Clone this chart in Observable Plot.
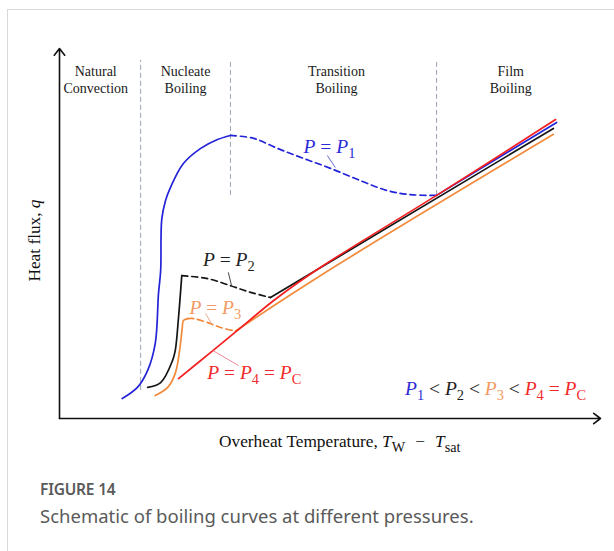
<!DOCTYPE html>
<html>
<head>
<meta charset="utf-8">
<script src="https://cdn.jsdelivr.net/npm/d3@7"></script>
<script src="https://cdn.jsdelivr.net/npm/@observablehq/plot@0.6"></script>
<style>
  html, body { margin: 0; padding: 0; background: #fff; }
  body { width: 614px; height: 551px; position: relative; overflow: hidden; }
  #frame { position: absolute; left: 7px; top: 9px; right: -2px; bottom: -2px;
           border-left: 1px solid #d9d9d9; border-top: 1px solid #d9d9d9; }
  #chart { position: absolute; left: 0; top: 0; }
  .caption { position: absolute; left: 40px; font-family: "Noto Sans", sans-serif; color: #5a5a5a; white-space: nowrap; }
  #fig { top: 478px; font-size: 15.5px; font-weight: 600; letter-spacing: -0.2px; }
  #cap { top: 503px; font-size: 18.5px; }
</style>
</head>
<body>
<div id="frame"></div>
<div id="chart"></div>
<div class="caption" id="fig">FIGURE 14</div>
<div class="caption" id="cap">Schematic of boiling curves at different pressures.</div>
<script>
// Schematic axes (arbitrary units): overheat temperature vs heat flux
const xDomain = [0, 100];
const qDomain = [0, 100];

// Boiling regimes and the boundaries between them
const regimeNames = ["Natural\nConvection", "Nucleate\nBoiling", "Transition\nBoiling", "Film\nBoiling"];
const regimeCenters = [6.7, 23.3, 51.2, 83.4];
const regimeLabelQ = 95.7;
const boundaryX = [15.0, 31.6, 69.7];
const boundaryTop = [96.8, 96.8, 96.8];
const boundaryBottom = [7.6, 60.3, 60.3];

// P = P1 (blue): nucleate rise, transition (dashed), film
const p1RiseX = [11.6, 14.4, 16.3, 17.7, 18.3, 18.7, 18.9, 19.6, 20.5, 22.9, 26.1, 29.2, 31.6];
const p1RiseQ = [5.4, 8.4, 13.0, 20.3, 33.8, 40.0, 53.8, 58.9, 62.4, 68.9, 73.0, 75.4, 76.5];
const p1TransX = [31.6, 35.9, 40.3, 45.1, 50.1, 55.6, 60.6, 64.9, 69.7];
const p1TransQ = [76.5, 75.7, 73.0, 70.3, 67.6, 64.3, 61.6, 60.5, 60.3];
const p1FilmX = [69.7, 91.9];
const p1FilmQ = [60.3, 80.0];

// P = P2 (black)
const p2RiseX = [16.3, 18.7, 20.9, 21.4, 22.0, 22.6];
const p2RiseQ = [8.4, 9.7, 15.7, 18.4, 27.3, 38.6];
const p2TransX = [22.6, 27.4, 31.6, 35.3, 39.0];
const p2TransQ = [38.6, 37.8, 35.9, 34.1, 32.7];
const p2FilmX = [39.0, 91.3];
const p2FilmQ = [32.7, 78.4];

// P = P3 (orange)
const p3RiseX = [17.7, 20.0, 21.4, 22.2, 22.7, 22.9, 23.7];
const p3RiseQ = [6.2, 8.4, 12.2, 18.4, 24.6, 26.5, 27.0];
const p3TransX = [23.7, 24.8, 27.4, 29.8, 32.5];
const p3TransQ = [27.0, 27.0, 25.9, 24.6, 23.6];
const p3FilmX = [32.5, 48.2, 91.3];
const p3FilmQ = [23.6, 38.6, 76.8];

// P = P4 = Pc (red): single monotonic curve
const p4X = [22.0, 27.9, 32.9, 39.6, 48.2, 69.7, 91.7];
const p4Q = [10.8, 17.8, 23.8, 31.9, 40.8, 60.3, 80.8];

// Curve labels (markup: *x* italic, _x / _{xx} subscript) and leader lines
const curveLabels = ["*P* = *P*_1", "*P* = *P*_2", "*P* = *P*_3", "*P* = *P*_4 = *P*_C"];
const curveLabelX = [49.9, 31.3, 28.8, 36.0];
const curveLabelQ = [73.5, 43.0, 30.0, 12.4];
const leaderX1 = [49.5, 31.2, 27.0, 28.3];
const leaderQ1 = [71.1, 39.5, 28.4, 18.4];
const leaderX2 = [51.0, 31.8, 28.3, 33.1];
const leaderQ2 = [67.8, 35.9, 25.1, 14.3];

const curveColors = ["#2323d8", "#141414", "#f28a3c", "#f41e1e"];
const labelColors = ["#2b2bd6", "#1e1e1e", "#f29a64", "#f22a2a"];
const leaderColors = ["#5a5ac8", "#333333", "#e8a080", "#f07a90"];

// Pressure ordering note
const orderParts = ["*P*_1", " < ", "*P*_2", " < ", "*P*_3", " < ", "*P*_4 = *P*_C"];
const orderColors = ["#2b2bd6", "#1e1e1e", "#1e1e1e", "#1e1e1e", "#f29a64", "#1e1e1e", "#f22a2a"];
const orderX = 80.6;
const orderQ = 8.1;

// Axis titles
const yTitle = "Heat flux, *q*";
const yTitleX = -4.6, yTitleQ = 48.1;
const xTitle = "Overheat Temperature, *T*_W \u2004−\u2004 *T*_{sat}";
const xTitleX = 51.8, xTitleQ = -6.2;

const pts = (xs, qs) => xs.map((x, i) => ({x, q: qs[i]}));
const serif = "'Liberation Serif', 'Times New Roman', serif";
const mathSize = 19.5;
const titleSize = 17.3;

const curves = [
  {rise: pts(p1RiseX, p1RiseQ), trans: pts(p1TransX, p1TransQ), film: pts(p1FilmX, p1FilmQ)},
  {rise: pts(p2RiseX, p2RiseQ), trans: pts(p2TransX, p2TransQ), film: pts(p2FilmX, p2FilmQ)},
  {rise: pts(p3RiseX, p3RiseQ), trans: pts(p3TransX, p3TransQ), film: pts(p3FilmX, p3FilmQ)}
];

const lineMarks = [];
curves.forEach((c, i) => {
  lineMarks.push(Plot.line(c.rise, {x: "x", y: "q", stroke: curveColors[i], strokeWidth: 1.7, curve: "catmull-rom"}));
  lineMarks.push(Plot.line(c.trans, {x: "x", y: "q", stroke: curveColors[i], strokeWidth: 1.7, curve: "catmull-rom", strokeDasharray: "6,4"}));
  lineMarks.push(Plot.line(c.film, {x: "x", y: "q", stroke: curveColors[i], strokeWidth: 1.7, curve: "catmull-rom"}));
});
lineMarks.push(Plot.line(pts(p4X, p4Q), {x: "x", y: "q", stroke: curveColors[3], strokeWidth: 1.7, curve: "catmull-rom"}));

const boundaries = boundaryX.map((x, i) => ({x, q1: boundaryBottom[i], q2: boundaryTop[i]}));
const regimes = regimeNames.map((name, i) => ({name, x: regimeCenters[i], q: regimeLabelQ}));
const labels = curveLabels.map((t, i) => ({t, x: curveLabelX[i], q: curveLabelQ[i], color: labelColors[i]}));
const leaders = curveLabels.map((t, i) => ({x1: leaderX1[i], q1: leaderQ1[i], x2: leaderX2[i], q2: leaderQ2[i], color: leaderColors[i]}));
const orderText = orderParts.join("");

const plot = Plot.plot({
  width: 614,
  height: 470,
  marginLeft: 59,
  marginRight: 14,
  marginTop: 48,
  marginBottom: 52,
  style: "background: transparent; overflow: visible;",
  x: {domain: xDomain, axis: null},
  y: {domain: qDomain, axis: null},
  marks: [
    // regime boundaries
    Plot.ruleX(boundaries, {x: "x", y1: "q1", y2: "q2", stroke: "#9aa5b6", strokeWidth: 1, strokeDasharray: "5,3"}),
    Plot.text(regimes, {x: "x", y: "q", text: "name", lineAnchor: "top", lineHeight: 1.2,
      fontFamily: serif, fontSize: 14, fill: "#1a1a1a"}),
    // axes with arrow heads
    Plot.arrow([{x1: xDomain[0], y1: qDomain[0], x2: xDomain[0], y2: qDomain[1]},
                {x1: xDomain[0], y1: qDomain[0], x2: xDomain[1], y2: qDomain[0]}],
      {x1: "x1", y1: "y1", x2: "x2", y2: "y2", stroke: "#111", strokeWidth: 1.6, headLength: 8, headAngle: 75}),
    ...lineMarks,
    // leader lines and curve labels
    Plot.link(leaders, {x1: "x1", y1: "q1", x2: "x2", y2: "q2", stroke: "color", strokeWidth: 0.9}),
    Plot.text(labels, {x: "x", y: "q", text: "t", fill: "color", fontFamily: serif, fontSize: mathSize}),
    Plot.text([{t: orderText, x: orderX, q: orderQ}], {x: "x", y: "q", text: "t",
      fontFamily: serif, fontSize: mathSize}),
    // axis titles
    Plot.text([{t: yTitle, x: yTitleX, q: yTitleQ}], {x: "x", y: "q", text: "t", rotate: -90,
      fontFamily: serif, fontSize: titleSize, fill: "#111"}),
    Plot.text([{t: xTitle, x: xTitleX, q: xTitleQ}], {x: "x", y: "q", text: "t",
      fontFamily: serif, fontSize: titleSize, fill: "#111"})
  ]
});
document.getElementById("chart").appendChild(plot);

// Turn the *italic* / _subscript markup into styled tspans
function parseRich(s) {
  const out = [];
  let i = 0;
  while (i < s.length) {
    const c = s[i];
    if (c === "*") {
      const j = s.indexOf("*", i + 1);
      out.push({text: s.slice(i + 1, j), italic: true});
      i = j + 1;
    } else if (c === "_") {
      if (s[i + 1] === "{") {
        const j = s.indexOf("}", i);
        out.push({text: s.slice(i + 2, j), sub: true});
        i = j + 1;
      } else {
        out.push({text: s[i + 1], sub: true});
        i += 2;
      }
    } else {
      let j = i;
      while (j < s.length && s[j] !== "*" && s[j] !== "_") j++;
      out.push({text: s.slice(i, j)});
      i = j;
    }
  }
  return out;
}

function richify(textEl, fontSize, parts, colors, subScale = 0.74) {
  textEl.textContent = "";
  textEl.setAttribute("style", "white-space: pre");
  const shift = 0.27 * fontSize;
  let offset = 0;
  parts.forEach((p, k) => {
    parseRich(p).forEach(seg => {
      const ts = document.createElementNS("http://www.w3.org/2000/svg", "tspan");
      ts.textContent = seg.text;
      if (seg.italic) ts.setAttribute("font-style", "italic");
      const target = seg.sub ? shift : 0;
      if (target !== offset) { ts.setAttribute("dy", target - offset); offset = target; }
      if (seg.sub) ts.setAttribute("font-size", subScale * fontSize);
      if (colors && colors[k]) ts.setAttribute("fill", colors[k]);
      textEl.appendChild(ts);
    });
  });
}

const svg = plot.tagName.toLowerCase() === "svg" ? plot : plot.querySelector("svg");
svg.querySelectorAll("text").forEach(t => {
  const s = t.textContent;
  if (s === orderText) richify(t, mathSize, orderParts, orderColors);
  else if (s === xTitle) richify(t, titleSize, [s], null, 0.82);
  else if (s === yTitle) richify(t, titleSize, [s]);
  else if (curveLabels.includes(s)) richify(t, mathSize, [s]);
});
</script>
</body>
</html>
